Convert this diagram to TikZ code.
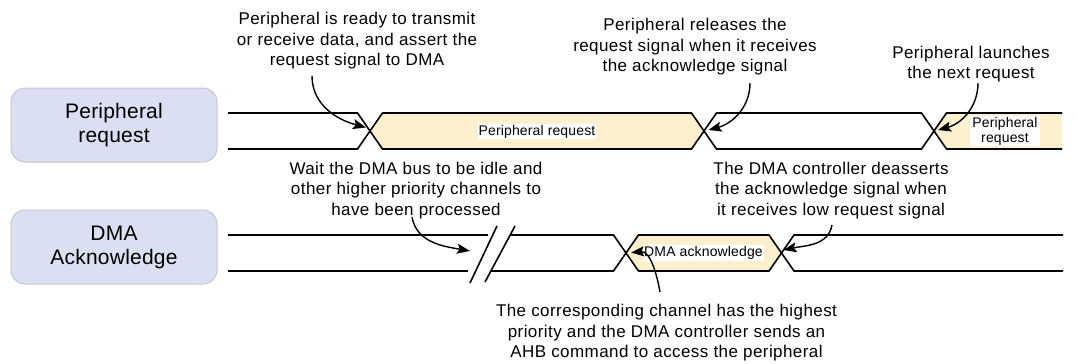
\documentclass[tikz,border=0pt]{standalone}
\usepackage{fontspec}
\setmainfont{Liberation Sans}
\usetikzlibrary{arrows.meta}
\definecolor{sigyellow}{RGB}{253,240,206}
\definecolor{lanefill}{RGB}{218,224,242}
\definecolor{laneborder}{RGB}{196,199,210}
\begin{document}
\begin{tikzpicture}[x=1pt,y=-1pt,
  sig/.style={line width=1.6pt, line join=miter},
  lane/.style={draw=laneborder, fill=lanefill, rounded corners=14pt, line width=1pt,
    minimum width=206pt, minimum height=74pt, align=center,
    font=\fontsize{21}{24}\selectfont\addfontfeature{LetterSpace=1}},
  note/.style={font=\fontsize{17}{20.5}\selectfont\addfontfeature{LetterSpace=2.5}, align=center, inner sep=0pt},
  tag/.style={fill=white, inner sep=1pt, align=center,
    font=\fontsize{14}{15}\selectfont\addfontfeature{LetterSpace=1}},
  ptr/.style={-{Stealth[length=13pt,width=10pt,inset=2.5pt]}, line width=1.4pt}
]
\useasboundingbox (0,0) rectangle (1077,364);

% lane labels
\node[lane] (lreq) at (114,125) {Peripheral\\request};
\node[lane] (lack) at (114,247) {DMA\\Acknowledge};

% ---------- Peripheral request signal ----------
\def\yT{113}\def\yB{149}\def\yM{131}\def\h{12.5}
\coordinate (c1) at (370,\yM);
\coordinate (c2) at (704,\yM);
\coordinate (c3) at (934,\yM);
\draw[sig] (228,\yT) -- (370-\h,\yT) -- (c1) -- (370-\h,\yB) -- (228,\yB);
\draw[sig, fill=sigyellow] (c1) -- (370+\h,\yT) -- (704-\h,\yT) -- (c2) -- (704-\h,\yB) -- (370+\h,\yB) -- cycle;
\draw[sig] (c2) -- (704+\h,\yT) -- (934-\h,\yT) -- (c3) -- (934-\h,\yB) -- (704+\h,\yB) -- cycle;
\fill[sigyellow] (1062,\yT) -- (934+\h,\yT) -- (c3) -- (934+\h,\yB) -- (1062,\yB) -- cycle;
\draw[sig] (1062,\yT) -- (934+\h,\yT) -- (c3) -- (934+\h,\yB) -- (1062,\yB);
\node[tag] (t1) at (537,131.5) {Peripheral request};
\node[tag, inner xsep=2pt] (t2) at (1005,131) {Peripheral\\request};

% ---------- DMA acknowledge signal ----------
\def\aT{235}\def\aB{271}\def\aM{253}
\coordinate (d1) at (626,\aM);
\coordinate (d2) at (781.5,\aM);
\draw[sig] (228,\aT) -- (488,\aT);
\draw[sig] (228,\aB) -- (468,\aB);
\draw[sig] (470,283) -- (497,226);
\draw[sig] (485,282) -- (515,226);
\draw[sig] (510.2,\aT) -- (626-\h,\aT) -- (d1) -- (626-\h,\aB) -- (490.9,\aB);
\draw[sig, fill=sigyellow] (d1) -- (626+\h,\aT) -- (781.5-\h,\aT) -- (d2) -- (781.5-\h,\aB) -- (626+\h,\aB) -- cycle;
\draw[sig] (1063,\aT) -- (781.5+\h,\aT) -- (d2) -- (781.5+\h,\aB) -- (1063,\aB);
\node[tag] (t3) at (703.5,253) {DMA acknowledge};

% ---------- notes ----------
\node[note] (n1) at (357,41) {Peripheral is ready to transmit\\or receive data, and assert the\\request signal to DMA};
\node[note] (n2) at (695,47) {Peripheral releases the\\request signal when it receives\\the acknowledge signal};
\node[note] (n3) at (971,64) {Peripheral launches\\the next request};
\node[note] (n4) at (416,190.6) {Wait the DMA bus to be idle and\\other higher priority channels to\\have been processed};
\node[note] (n5) at (831,190.6) {The DMA controller deasserts\\the acknowledge signal when\\it receives low request signal};
\node[note] (n6) at (666.5,333) {The corresponding channel has the highest\\priority and the DMA controller sends an\\AHB command to access the peripheral};

% ---------- pointers ----------
\coordinate (s1) at (312,76);   \coordinate (e1) at (366,127.5);
\coordinate (s2) at (750,83);   \coordinate (e2) at (708.5,130);
\coordinate (s3) at (978,83);   \coordinate (e3) at (938,130);
\coordinate (s4) at (412,217);  \coordinate (e4) at (470,251);
\coordinate (s5) at (832,225);  \coordinate (e5) at (783.5,250);
\coordinate (s6) at (660,292);  \coordinate (e6) at (631,252.5);
\draw[ptr] (s1) to[out=-90,in=165] (e1);
\draw[ptr] (s2) to[out=-90,in=15] (e2);
\draw[ptr] (s3) to[out=-90,in=15] (e3);
\draw[ptr] (s4) to[out=-80,in=170] (e4);
\draw[ptr] (s5) to[out=-100,in=12] (e5);
\draw[ptr] (s6) to[out=100,in=5] (e6);
\end{tikzpicture}
\end{document}
